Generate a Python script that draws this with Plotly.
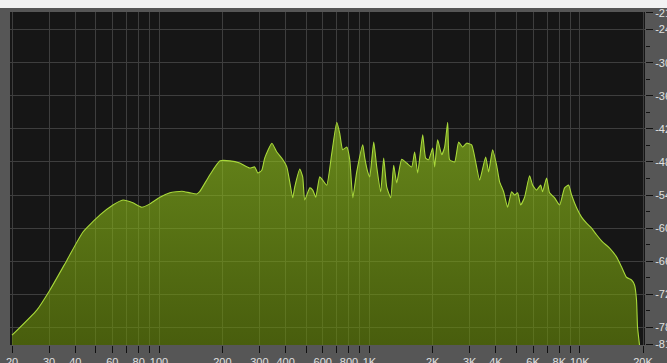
import plotly.graph_objects as go

# Spectrum analyser reading: frequency (Hz) and level (dB)
freq_hz = [
    20, 26.3, 30.3, 36.5, 43.5, 52.4, 60.4, 67.4, 75.1, 82.9, 90.5, 101,
    112.6, 128.4, 140.2, 151, 156, 174, 195, 217, 242, 270,
    285, 295, 308, 318, 344, 363, 388, 405, 419, 432, 442, 467, 482, 493,
    521, 538, 556, 581, 600, 627, 663, 700, 723, 747, 781, 807, 834, 871,
    930, 951, 982, 1004, 1049, 1084, 1132, 1170, 1209, 1263, 1305, 1349,
    1425, 1505, 1589, 1642, 1697, 1793, 1852, 1914, 2000, 2044, 2112, 2208,
    2280, 2357, 2408, 2544, 2658, 2777, 2900, 3064, 3202, 3344, 3572, 3690,
    3855, 4028, 4162, 4348, 4542, 4746, 4904, 5068, 5236, 5470, 5778, 5972,
    6238, 6520, 6664, 6960, 7192, 7596, 8026, 8476, 8856, 9150, 9664,
    10208, 10780, 11386, 12026, 12842, 13868, 14964, 15806, 16692, 17638,
    18224, 18626, 18834, 19250,
]
level_db = [
    -79.4, -74.8, -71.2, -65.8, -60.7, -57.6, -55.8, -54.9, -55.4, -56.2, -55.6, -54.4,
    -53.6, -53.3, -53.6, -53.8, -53.4, -50.4, -47.8, -47.8, -48.2, -49.1,
    -48.9, -50.0, -49.5, -47.3, -44.6, -46.2, -47.6, -48.9, -51.8, -54.5, -52.5, -49.3, -50.7, -54.9,
    -52.7, -53.1, -54.4, -50.7, -51.3, -52.2, -46.4, -40.8, -42.8, -45.8, -45.3, -47.6, -54.5, -49.8,
    -44.9, -47.3, -49.8, -50.7, -44.4, -48.9, -53.4, -47.3, -52.5, -54.5, -48.6, -51.8,
    -47.5, -48.2, -48.9, -46.2, -50.0, -43.1, -47.3, -47.6, -45.5, -48.9, -44.0, -46.7,
    -45.3, -40.8, -47.6, -48.0, -44.4, -45.3, -44.6, -44.9, -48.0, -51.3, -47.1, -49.8,
    -45.8, -48.6, -51.6, -53.4, -56.2, -53.4, -54.0, -53.6, -55.8, -54.4, -50.5, -52.2,
    -53.1, -52.2, -53.4, -50.9, -53.6, -54.5, -55.8, -52.7, -52.2, -54.0, -56.3,
    -58.0, -59.1, -60.0, -61.2, -62.5, -63.6, -65.2, -67.0, -68.9, -69.4,
    -70.3, -73.0, -77.9, -81.2,
]

# Floor that the filled area hangs from
floor_db = -84

# Axis ticks
x_tickvals = [20, 30, 40, 50, 60, 70, 80, 90, 100,
              200, 300, 400, 500, 600, 700, 800, 900, 1000,
              2000, 3000, 4000, 5000, 6000, 7000, 8000, 9000, 10000, 20000]
x_ticktext = ["20", "30", "40", "", "60", "", "80", "", "100",
              "200", "300", "400", "", "600", "", "800", "", "1K",
              "2K", "3K", "4K", "", "6K", "", "8K", "", "10K", "20K"]
y_tickvals = [-21, -24, -30, -36, -42, -48, -54, -60, -66, -72, -78, -81]
y_ticktext = ["-21", "-24", "-30", "-36", "-42", "-48", "-54", "-60", "-66", "-72", "-78", "-81"]
y_minor = [-27, -33, -39, -45, -51, -57, -63, -69, -75]

fig = go.Figure()

fig.add_trace(go.Scatter(
    x=[freq_hz[0], freq_hz[-1]], y=[floor_db, floor_db],
    mode="lines", line=dict(width=0), hoverinfo="skip", showlegend=False,
))
fig.add_trace(go.Scatter(
    x=freq_hz, y=level_db, mode="lines",
    line=dict(color="#a8d83a", width=1.1, shape="spline", smoothing=0.5),
    fill="tonexty",
    fillgradient=dict(
        type="vertical",
        colorscale=[[0, "rgba(105,140,5,0.58)"], [1, "rgba(160,215,30,0.58)"]],
    ),
    showlegend=False,
))

fig.update_layout(
    width=667, height=363,
    margin=dict(l=10, r=22, t=12, b=18, autoexpand=False),
    paper_bgcolor="#565656",
    plot_bgcolor="#161616",
    font=dict(family="Liberation Sans Narrow, Liberation Sans, sans-serif", color="#d8d8d8", size=11),
    xaxis=dict(
        type="log", range=[1.2915, 4.3105], automargin=False,
        tickvals=x_tickvals, ticktext=x_ticktext,
        ticks="outside", ticklen=7, tickwidth=1, tickcolor="#111111",
        showgrid=True, gridcolor="#3e3e3e", gridwidth=1,
        showline=False, zeroline=False,
        tickfont=dict(size=11, color="#e0e0e0"),
        ticklabelstandoff=0,
    ),
    yaxis=dict(
        side="right", range=[-81.18, -20.82], automargin=False,
        tickvals=y_tickvals, ticktext=y_ticktext,
        ticks="outside", ticklen=7, tickwidth=1, tickcolor="#111111",
        showgrid=True, gridcolor="#3e3e3e", gridwidth=1,
        showline=False, zeroline=False,
        tickfont=dict(size=11, color="#e0e0e0"),
        ticklabelstandoff=0,
        minor=dict(tickvals=y_minor, ticks="outside", ticklen=4,
                   tickcolor="#111111", showgrid=False),
    ),
    shapes=[dict(type="rect", xref="paper", yref="paper",
                 x0=-0.02, x1=1.04, y0=1.012, y1=1.04,
                 fillcolor="#f2f2f2", line=dict(width=0), layer="below")],
)

fig.write_html("out.html")
